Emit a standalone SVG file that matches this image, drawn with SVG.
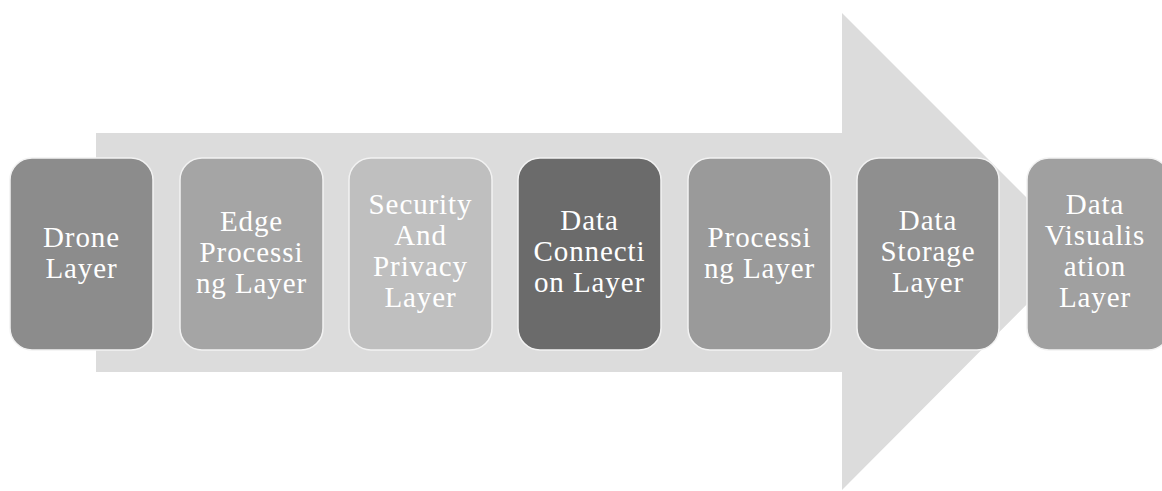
<svg xmlns="http://www.w3.org/2000/svg" width="1162" height="491" viewBox="0 0 1162 491">
<style>
.box{stroke:#f2f2f2;stroke-width:1.5}
.t{font-family:"Liberation Serif","Times New Roman",serif;font-size:29px;fill:#ffffff;text-anchor:middle;letter-spacing:0.9px}
</style>
<rect width="1162" height="491" fill="#ffffff"/>
<g id="arrow">
<polygon points="96,133 842,133 842,13 1080,251 842,490 842,372 96,372" fill="#dcdcdc"/>
</g>
<g id="connectors"></g>
<g id="drone">
<rect class="box" x="10" y="158" width="143" height="192" rx="22" fill="#8c8c8c"/>
<text class="t" x="81.5"><tspan x="81.5" y="247">Drone</tspan><tspan x="81.5" y="278">Layer</tspan></text>
</g>
<g id="edge">
<rect class="box" x="180" y="158" width="143" height="192" rx="22" fill="#a5a5a5"/>
<text class="t"><tspan x="251.5" y="231">Edge</tspan><tspan x="251.5" y="262">Processi</tspan><tspan x="251.5" y="293">ng Layer</tspan></text>
</g>
<g id="security">
<rect class="box" x="349" y="158" width="143" height="192" rx="22" fill="#bfbfbf"/>
<text class="t"><tspan x="420.5" y="214">Security</tspan><tspan x="420.5" y="245">And</tspan><tspan x="420.5" y="276">Privacy</tspan><tspan x="420.5" y="307">Layer</tspan></text>
</g>
<g id="dataconnection">
<rect class="box" x="518" y="158" width="143" height="192" rx="22" fill="#6b6b6b"/>
<text class="t"><tspan x="589.5" y="230">Data</tspan><tspan x="589.5" y="261">Connecti</tspan><tspan x="589.5" y="292">on Layer</tspan></text>
</g>
<g id="processing">
<rect class="box" x="688" y="158" width="143" height="192" rx="22" fill="#9a9a9a"/>
<text class="t"><tspan x="759.5" y="247">Processi</tspan><tspan x="759.5" y="278">ng Layer</tspan></text>
</g>
<g id="datastorage">
<rect class="box" x="857" y="158" width="142" height="192" rx="22" fill="#8f8f8f"/>
<text class="t"><tspan x="928" y="230">Data</tspan><tspan x="928" y="261">Storage</tspan><tspan x="928" y="292">Layer</tspan></text>
</g>
<g id="datavisualisation">
<rect class="box" x="1027" y="158" width="143" height="192" rx="22" fill="#a0a0a0"/>
<text class="t"><tspan x="1095" y="214">Data</tspan><tspan x="1095" y="245">Visualis</tspan><tspan x="1095" y="276">ation</tspan><tspan x="1095" y="307">Layer</tspan></text>
</g>
</svg>
